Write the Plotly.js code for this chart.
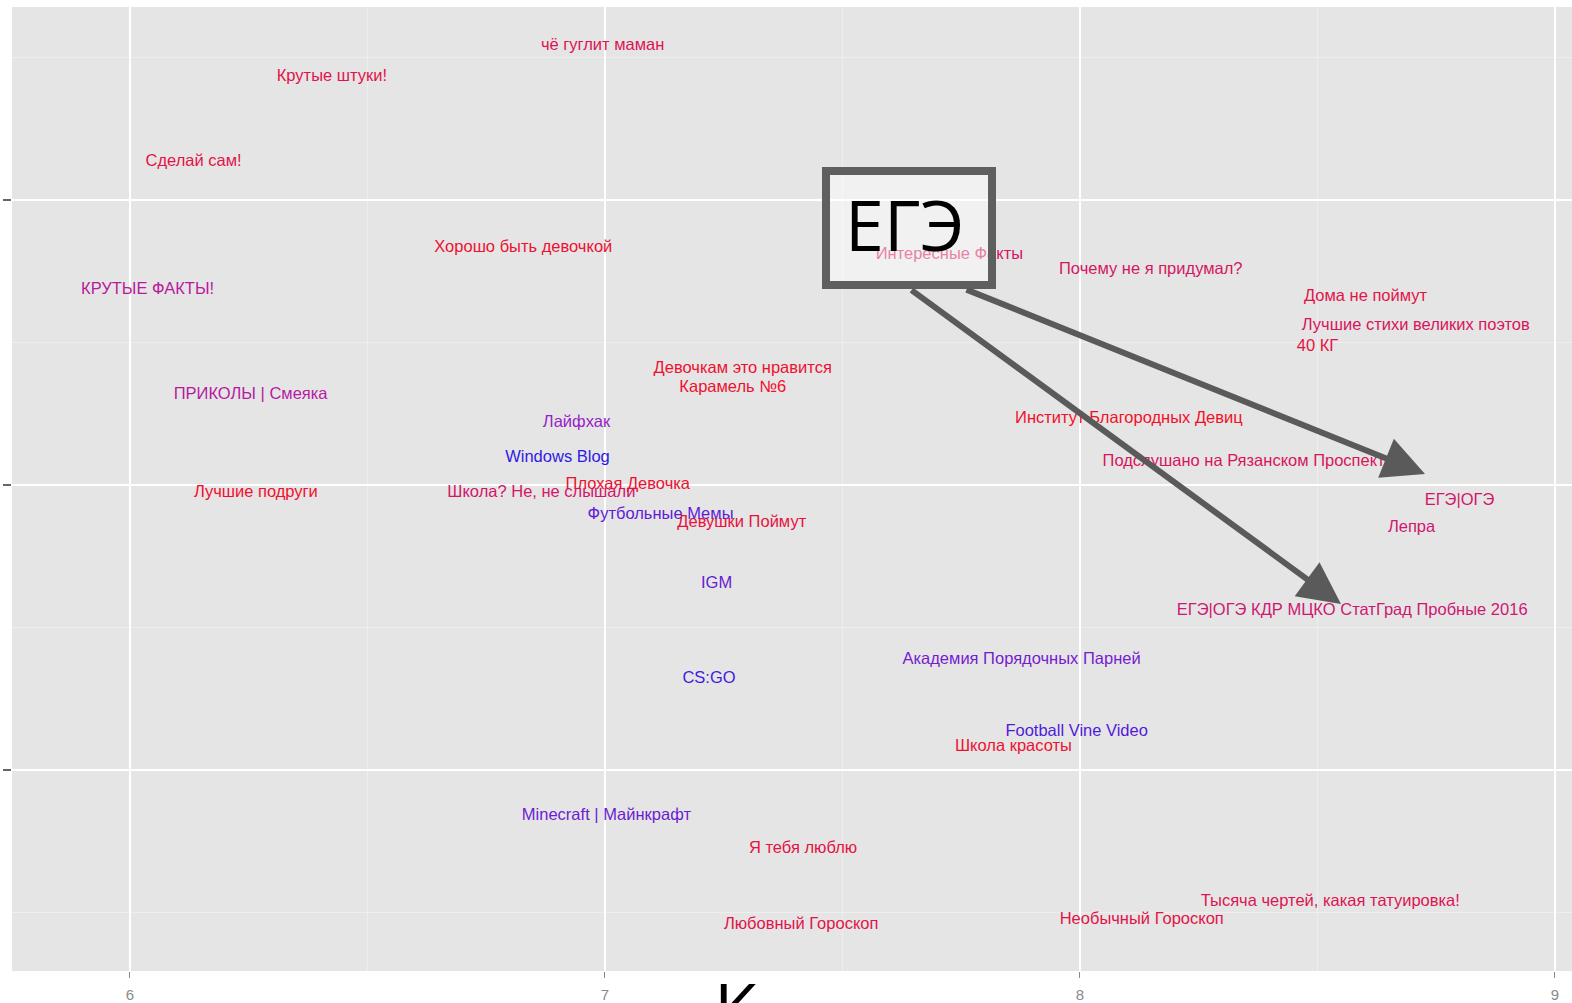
<!DOCTYPE html>
<html>
<head>
<meta charset="utf-8">
<script src="https://cdn.plot.ly/plotly-3.0.1.min.js"></script>
<style>
  html, body { margin: 0; padding: 0; background: #ffffff; overflow: hidden; }
  #chart { width: 1572px; height: 1003px; }
</style>
</head>
<body>
<div id="chart"></div>
<script>
// Community names (labels drawn as text marks)
const names = [
  "чё гуглит маман", "Крутые штуки!", "Сделай сам!", "Хорошо быть девочкой",
  "КРУТЫЕ ФАКТЫ!", "Интересные Факты", "Почему не я придумал?", "Дома не поймут",
  "Лучшие стихи великих поэтов", "40 КГ", "Девочкам это нравится", "Карамель №6",
  "ПРИКОЛЫ | Смеяка", "Лайфхак", "Институт Благородных Девиц", "Windows Blog",
  "Подслушано на Рязанском Проспекте", "Лучшие подруги", "Школа? Не, не слышали", "Плохая Девочка",
  "Футбольные Мемы", "Девушки Поймут", "ЕГЭ|ОГЭ", "Лепра",
  "IGM", "ЕГЭ|ОГЭ КДР МЦКО СтатГрад Пробные 2016", "Академия Порядочных Парней", "CS:GO",
  "Football Vine Video", "Школа красоты", "Minecraft | Майнкрафт", "Я тебя люблю",
  "Тысяча чертей, какая татуировка!", "Любовный Гороскоп", "Необычный Гороскоп"
];

// x values
const xVals = [
  6.995, 6.425, 6.134, 6.828,
  6.037, 7.725, 8.149, 8.601,
  8.707, 8.500, 7.290, 7.269,
  6.254, 6.940, 8.103, 6.900,
  8.354, 6.265, 6.866, 7.048,
  7.117, 7.288, 8.799, 8.698,
  7.235, 8.573, 7.877, 7.219,
  7.993, 7.860, 7.003, 7.417,
  8.527, 7.413, 8.130
];

// y values (vertical axis, tick labels not visible in the reference)
const yVals = [
  3.540, 3.431, 3.135, 2.833,
  2.685, 2.808, 2.755, 2.660,
  2.559, 2.485, 2.407, 2.340,
  2.316, 2.217, 2.231, 2.094,
  2.080, 1.974, 1.974, 1.999,
  1.894, 1.866, 1.943, 1.848,
  1.654, 1.559, 1.387, 1.320,
  1.134, 1.081, 0.838, 0.722,
  0.536, 0.458, 0.473
];

// colour variable (0 = blue end, 1 = red end)
const share = [
  0.85, 0.88, 0.88, 0.95,
  0.62, 0.80, 0.80, 0.88,
  0.82, 0.90, 0.96, 0.96,
  0.60, 0.45, 0.98, 0.08,
  0.82, 0.97, 0.78, 0.95,
  0.25, 0.92, 0.78, 0.75,
  0.28, 0.75, 0.33, 0.15,
  0.20, 0.95, 0.30, 0.90,
  0.85, 0.88, 0.88
];

const xTickVals = [6, 7, 8, 9];
const xTickText = ["6", "7", "8", "9"];
const calloutText = "ЕГЭ";
const bottomText = "К";

const stops = [[0, [25, 25, 235]], [0.5, [165, 30, 195]], [1, [245, 15, 35]]];
function gradColor(t) {
  let i = t <= 0.5 ? 0 : 1;
  const a = stops[i], b = stops[i + 1];
  const f = (t - a[0]) / (b[0] - a[0]);
  const c = a[1].map((l, k) => Math.round(l + (b[1][k] - l) * f));
  return "rgb(" + c.join(",") + ")";
}
const colors = share.map(gradColor);

const W = 1572, H = 1003;
const mL = 12, mR = 0, mT = 7, mB = 32;
const pw = W - mL - mR, ph = H - mT - mB;
const px = v => (v - mL) / pw;
const py = v => (H - mB - v) / ph;

const trace = {
  type: "scatter",
  mode: "text",
  x: xVals,
  y: yVals,
  text: names,
  textposition: "middle center",
  textfont: { family: "Liberation Sans, Arial, sans-serif", size: 16.5, color: colors },
  hoverinfo: "none",
  showlegend: false,
  cliponaxis: false
};

const layout = {
  width: W, height: H,
  margin: { l: mL, r: mR, t: mT, b: mB, pad: 0 },
  paper_bgcolor: "#ffffff",
  plot_bgcolor: "#e5e5e5",
  showlegend: false,
  xaxis: {
    range: [5.7516, 9.0358],
    tickvals: xTickVals,
    ticktext: xTickText,
    showgrid: true, gridcolor: "#ffffff", gridwidth: 1.3,
    minor: { dtick: 0.5, tick0: 0, showgrid: true, gridcolor: "#f2f2f2", gridwidth: 0.7, ticks: "" },
    zeroline: false, showline: false,
    ticks: "outside", ticklen: 6, tickwidth: 1, tickcolor: "#8a8a8a",
    ticklabelstandoff: 4,
    tickfont: { family: "Liberation Sans, Arial, sans-serif", size: 15, color: "#8a8a8a" },
    fixedrange: true
  },
  yaxis: {
    range: [0.295, 3.677],
    tick0: 0, dtick: 1,
    showticklabels: false,
    showgrid: true, gridcolor: "#ffffff", gridwidth: 1.3,
    minor: { dtick: 0.5, tick0: 0, showgrid: true, gridcolor: "#f2f2f2", gridwidth: 0.7, ticks: "" },
    zeroline: false, showline: false,
    ticks: "outside", ticklen: 8, tickwidth: 1.5, tickcolor: "#666666",
    fixedrange: true
  },
  shapes: [
    {
      type: "rect", xref: "paper", yref: "paper", layer: "above",
      x0: px(826), x1: px(992), y0: py(285), y1: py(171),
      fillcolor: "rgba(255,255,255,0.45)",
      line: { color: "#5f5f5f", width: 8 }
    }
  ],
  annotations: [
    {
      xref: "paper", yref: "paper", x: px(1341), y: py(604),
      text: "", showarrow: true, arrowhead: 2, arrowsize: 1.4, arrowwidth: 6,
      arrowcolor: "#5a5a5a", axref: "pixel", ayref: "pixel",
      ax: 910 - 1341, ay: 289 - 604, standoff: 0, startstandoff: 0
    },
    {
      xref: "paper", yref: "paper", x: px(1425), y: py(474),
      text: "", showarrow: true, arrowhead: 2, arrowsize: 1.4, arrowwidth: 6,
      arrowcolor: "#5a5a5a", axref: "pixel", ayref: "pixel",
      ax: 965 - 1425, ay: 289 - 474, standoff: 0, startstandoff: 0
    },
    {
      xref: "paper", yref: "paper", x: px(904), y: py(224),
      xanchor: "center", yanchor: "middle",
      text: calloutText, showarrow: false,
      font: { family: "Open Sans, Liberation Sans, sans-serif", size: 70, color: "#000000" }
    },
    {
      xref: "paper", yref: "paper", x: px(712), y: py(957),
      xanchor: "left", yanchor: "top",
      text: bottomText, showarrow: false,
      font: { family: "Open Sans, Liberation Sans, sans-serif", size: 70, color: "#000000" }
    }
  ]
};

Plotly.newPlot("chart", [trace], layout, { staticPlot: true, displayModeBar: false });
</script>
</body>
</html>
